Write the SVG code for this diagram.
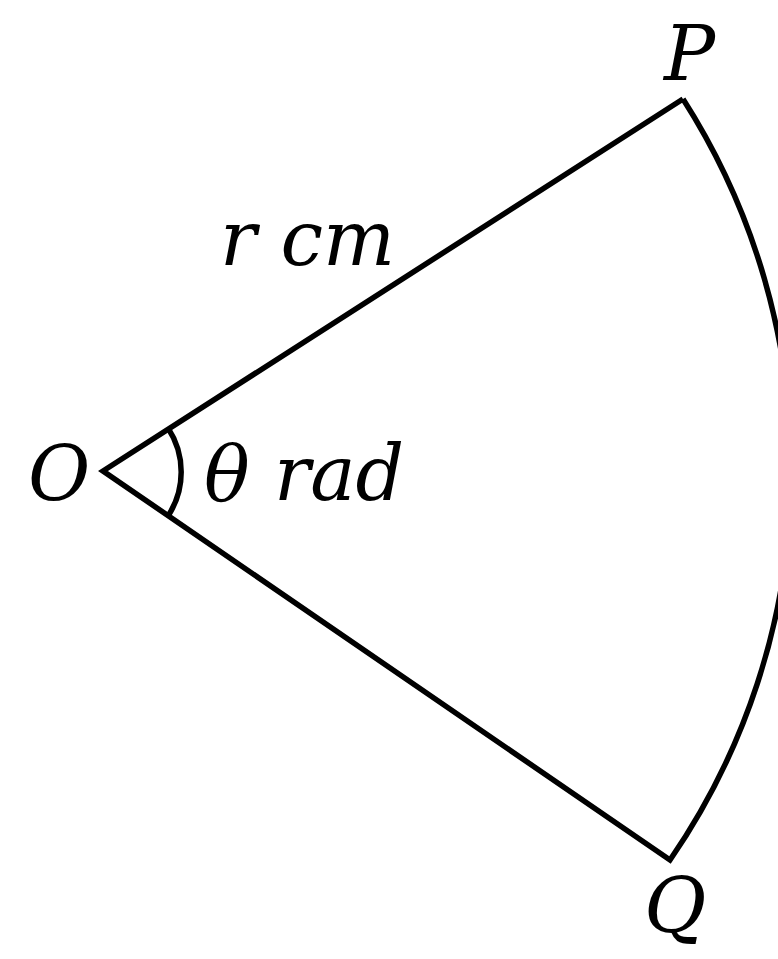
<svg xmlns="http://www.w3.org/2000/svg" width="778" height="959" viewBox="0 0 778 959">
<style>
.ln{fill:none;stroke:#000;stroke-width:5.5;stroke-linejoin:miter}
.t{font-family:"DejaVu Serif","Liberation Serif",serif;font-style:italic;font-size:76px;fill:#000}
</style>
<rect width="778" height="959" fill="#fff"/>
<g id="sector">
<path class="ln" d="M683,99 L103,471 L670,860 A688,688 0 0 0 683,99"/>
<path class="ln" d="M168,428 A80,80 0 0 1 168,516"/>
</g>
<g id="labels">
<text class="t" x="28" y="500">O</text>
<text class="t" x="664" y="80">P</text>
<text class="t" x="644" y="932">Q</text>
<text class="t" x="220" y="265">r cm</text>
<text class="t" x="204" y="500">θ rad</text>
</g>
</svg>
